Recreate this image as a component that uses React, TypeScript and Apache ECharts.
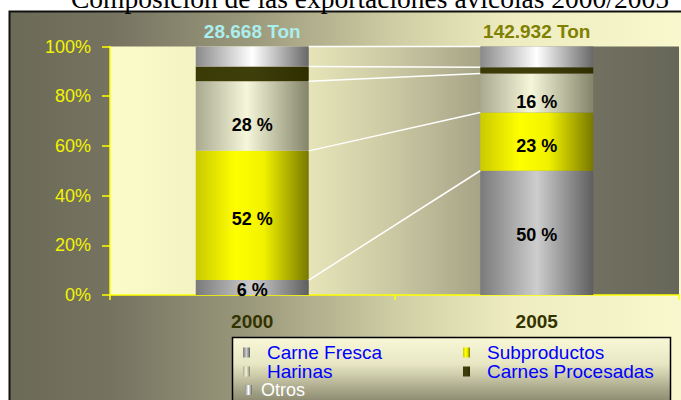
import React, { useEffect, useRef } from "react";
import * as echarts from "echarts";

const categories = ["2000", "2005"];
const carneFresca = [6, 50];
const subproductos = [52, 23.4];
const harinas = [28, 15.7];
const carnesProcesadas = [6, 2.6];
const otros = [8, 8.3];
const totalLabels = ["28.668 Ton", "142.932 Ton"];
const totalColors = ["#aaeeee", "#808000"];
const seriesNames = ["Carne Fresca", "Subproductos", "Harinas", "Carnes Procesadas", "Otros"];

const BAR_W = 113;
const FONT = "Liberation Sans, Arial, sans-serif";

const hGrad = (stops: [number, string][]) =>
  new echarts.graphic.LinearGradient(0, 0, 1, 0, stops.map(([offset, color]) => ({ offset, color })));

const segColors = [
  hGrad([[0, "#7a7a7a"], [0.5, "#cdcdcd"], [1, "#5e5e5e"]]),
  hGrad([[0, "#caca00"], [0.35, "#ffff00"], [0.6, "#f2f200"], [1, "#787800"]]),
  hGrad([[0, "#a9a990"], [0.45, "#f6f6da"], [1, "#84846a"]]),
  hGrad([[0, "#3a3a06"], [0.5, "#3f3f0c"], [1, "#2e2e00"]]),
  hGrad([[0, "#8a8a8a"], [0.5, "#ffffff"], [1, "#686868"]]),
];

export default function App() {
  const ref = useRef<HTMLDivElement>(null);
  useEffect(() => {
    if (!ref.current) return;
    const chart = echarts.init(ref.current, null, { renderer: "svg" });
    const segs = [carneFresca, subproductos, harinas, carnesProcesadas, otros];
    const cum: number[][] = [];
    const run = [0, 0];
    segs.forEach((s) => {
      run[0] += s[0];
      run[1] += s[1];
      cum.push([0, run[0], run[1]]);
    });
    const labelOffsets = [[0, 2], [0, 4], [0, 9]];
    const barSeries: any[] = segs.map((vals, si) => ({
      name: seriesNames[si],
      type: "bar",
      stack: "total",
      barWidth: BAR_W,
      itemStyle: { color: segColors[si] },
      label: {
        show: si < 3,
        position: "inside",
        offset: labelOffsets[si] || [0, 0],
        formatter: (p: any) => Math.round(p.value) + " %",
        color: "#000",
        fontSize: 18,
        fontWeight: "bold",
        fontFamily: FONT,
      },
      data:
        si === 4
          ? vals.map((v, i) => ({
              value: v,
              label: {
                show: true,
                position: "top",
                distance: 6,
                formatter: totalLabels[i],
                color: totalColors[i],
                fontSize: 19,
                fontWeight: "bold",
                fontFamily: FONT,
              },
            }))
          : vals,
    }));
    const lineSeries = {
      name: "lineas",
      type: "custom",
      z: 3,
      data: cum,
      renderItem: (params: any, api: any) => {
        const p1 = api.coord([0, api.value(1)]);
        const p2 = api.coord([1, api.value(2)]);
        return {
          type: "line",
          shape: { x1: p1[0] + BAR_W / 2, y1: p1[1], x2: p2[0] - BAR_W / 2, y2: p2[1] },
          style: { stroke: "#ffffff", lineWidth: 1.5 },
        };
      },
    };
    const legendBase = {
      orient: "vertical",
      padding: 0,
      itemGap: 0,
      itemWidth: 7,
      itemHeight: 10,
      icon: "rect",
      selectedMode: false,
    };
    chart.setOption({
      animation: false,
      graphic: [
        {
          type: "rect",
          z: -100,
          shape: { x: 9.5, y: 11.5, width: 700, height: 400 },
          style: {
            stroke: "#111",
            lineWidth: 2,
            fill: new echarts.graphic.LinearGradient(0, 0, 1, 0, [
              { offset: 0, color: "#6b6a56" },
              { offset: 0.15, color: "#767461" },
              { offset: 0.35, color: "#9c9a7c" },
              { offset: 0.55, color: "#cfcda3" },
              { offset: 0.72, color: "#eeecc0" },
              { offset: 1, color: "#fafad0" },
            ]),
          },
        },
        {
          type: "text",
          z: 10,
          x: 370,
          y: -1.5,
          style: {
            text: "Composición de las exportaciones avícolas 2000/2005",
            fill: "#000",
            font: "27.5px 'Liberation Serif', 'Times New Roman', serif",
            textAlign: "center",
            textVerticalAlign: "middle",
          },
        },
        {
          type: "rect",
          z: 1,
          shape: { x: 232.5, y: 337.5, width: 438, height: 75 },
          style: {
            stroke: "#000",
            lineWidth: 1.5,
            fill: new echarts.graphic.LinearGradient(0, 0, 0, 1, [
              { offset: 0, color: "#f8f8d8" },
              { offset: 0.35, color: "#e8e7c4" },
              { offset: 0.85, color: "#8c8a70" },
              { offset: 1, color: "#807e66" },
            ]),
          },
        },
      ],
      grid: {
        left: 110,
        right: 2,
        top: 46.5,
        bottom: 105,
        show: true,
        borderWidth: 0,
        backgroundColor: new echarts.graphic.LinearGradient(0, 0, 1, 0, [
          { offset: 0, color: "#fcfcca" },
          { offset: 0.15, color: "#f4f3c3" },
          { offset: 0.35, color: "#e6e4b8" },
          { offset: 0.5, color: "#cac8a2" },
          { offset: 0.65, color: "#a6a486" },
          { offset: 0.85, color: "#727060" },
          { offset: 1, color: "#666658" },
        ]),
      },
      xAxis: {
        type: "category",
        data: categories,
        axisLine: { show: true, lineStyle: { color: "#ffff00", width: 1.5 } },
        axisTick: { show: true, length: 5, lineStyle: { color: "#ffff00", width: 1.5 } },
        axisLabel: {
          margin: 17,
          color: "#333300",
          fontSize: 19,
          fontWeight: "bold",
          fontFamily: FONT,
        },
      },
      yAxis: {
        type: "value",
        min: 0,
        max: 100,
        interval: 20,
        splitLine: { show: false },
        axisLine: { show: true, lineStyle: { color: "#ffff00", width: 1.5 } },
        axisTick: { show: true, length: 8, lineStyle: { color: "#ffff00", width: 1.5 } },
        axisLabel: {
          margin: 19,
          color: "#f4f400",
          fontSize: 18,
          fontFamily: FONT,
          formatter: "{value}%",
        },
      },
      legend: [
        {
          ...legendBase,
          left: 243,
          top: 343,
          data: ["Carne Fresca", "Harinas"],
          textStyle: { color: "#0000ff", fontSize: 19, lineHeight: 18, fontFamily: FONT, padding: [0, 0, 0, 12] },
        },
        {
          ...legendBase,
          left: 463,
          top: 343,
          data: ["Subproductos", "Carnes Procesadas"],
          textStyle: { color: "#0000ff", fontSize: 19, lineHeight: 18, fontFamily: FONT, padding: [0, 0, 0, 12] },
        },
        {
          ...legendBase,
          left: 245,
          top: 381,
          data: ["Otros"],
          textStyle: { color: "#ffffff", fontSize: 18, lineHeight: 17, fontFamily: FONT, padding: [0, 0, 0, 4] },
        },
      ],
      series: [...barSeries, lineSeries],
    });
    return () => chart.dispose();
  }, []);
  return <div ref={ref} style={{ position: "absolute", left: 0, top: 0, width: 681, height: 400 }} />;
}
